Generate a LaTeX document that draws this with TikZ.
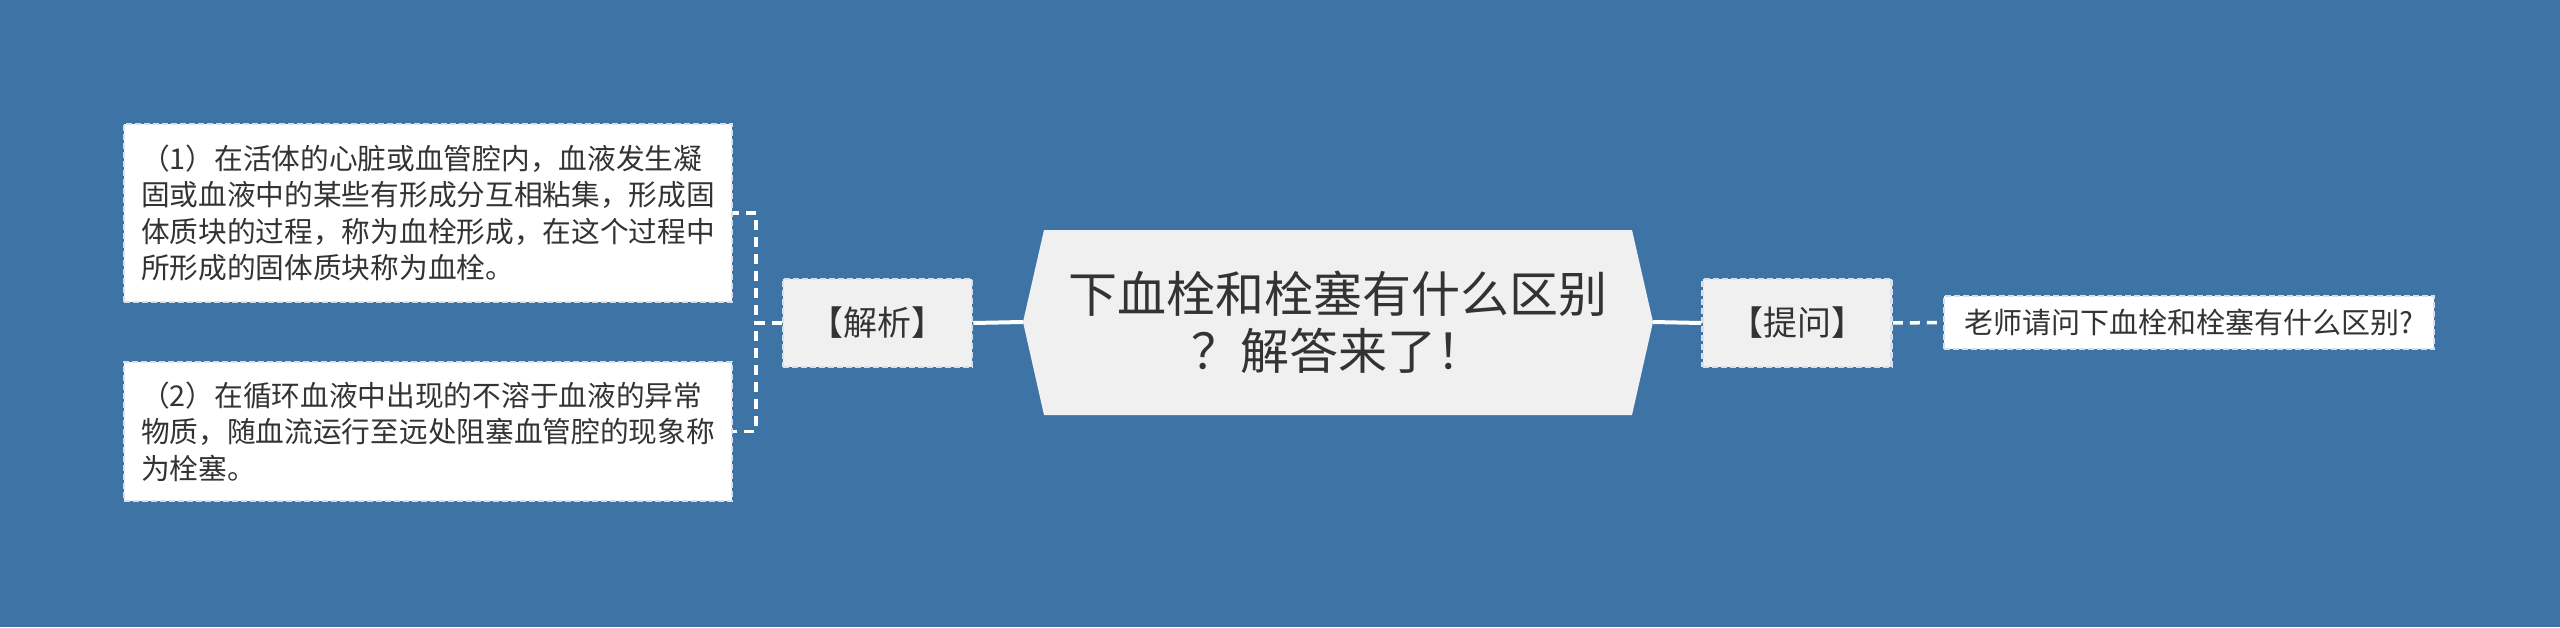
\documentclass[tikz,border=0pt]{standalone}
\usepackage{fontspec}
\setmainfont{Noto Sans CJK SC}
\usetikzlibrary{positioning}

\definecolor{bgblue}{RGB}{61,116,165}
\definecolor{boxgray}{RGB}{240,240,240}
\definecolor{inkgray}{RGB}{51,51,51}
\definecolor{edgegray}{RGB}{214,224,234}

\begin{document}
\begin{tikzpicture}[x=1pt,y=-1pt,
  rootnode/.style={minimum width=630pt, minimum height=185pt, inner sep=0pt,
    align=center, text=inkgray, font=\fontsize{49}{57}\selectfont},
  midbox/.style={draw=edgegray, fill=boxgray, dash pattern=on 6pt off 3pt,
    line width=2.5pt, minimum width=189pt, minimum height=88pt, inner sep=0pt,
    text=inkgray, font=\fontsize{34}{40}\selectfont},
  leafbox/.style={draw=edgegray, fill=white, dash pattern=on 6pt off 3pt,
    line width=2.5pt, inner xsep=17pt, inner ysep=0pt, text=inkgray,
    align=left, font=\fontsize{28.7}{36.6}\selectfont},
  solidlink/.style={draw=white, line width=4pt},
  dashlink/.style={draw=white, line width=3.5pt, dash pattern=on 10pt off 7pt}]

  % Background
  \fill[bgblue] (0,0) rectangle (2560,627);
  \useasboundingbox (0,0) rectangle (2560,627);

  % Root: hexagon with title
  \fill[boxgray] (1044,230) -- (1632,230) -- (1653,322) -- (1632,415)
    -- (1044,415) -- (1023,322) -- cycle;
  \node[rootnode] (root) at (1338,322) {下血栓和栓塞有什么区别\\？解答来了！};

  % Left branch
  \node[midbox] (jiexi) at (877.5,323) {【解析】};
  \node[leafbox, text width=574pt, minimum height=178pt] (jiexia) at (428,213)
    {（1）在活体的心脏或血管腔内，血液发生凝\\
     固或血液中的某些有形成分互相粘集，形成固\\
     体质块的过程，称为血栓形成，在这个过程中\\
     所形成的固体质块称为血栓。};
  \node[leafbox, text width=574pt, minimum height=139pt] (jiexib) at (428,431.5)
    {（2）在循环血液中出现的不溶于血液的异常\\
     物质，随血流运行至远处阻塞血管腔的现象称\\
     为栓塞。};

  % Right branch
  \node[midbox] (tiwen) at (1797,323) {【提问】};
  \node[leafbox, minimum width=490pt, minimum height=53pt,
    font=\fontsize{29}{34}\selectfont] (tiwena) at (2189,322.5)
    {老师请问下血栓和栓塞有什么区别?};

  % Connectors
  \draw[solidlink] (root.west) -- (jiexi.east);
  \draw[solidlink] (root.east) -- (tiwen.west);
  \draw[dashlink] (jiexi.west) -- ++(-26,0) |- (jiexia.east);
  \draw[dashlink] (jiexi.west) -- ++(-26,0) |- (jiexib.east);
  \draw[dashlink] (tiwen.east) -- (tiwena.west);
\end{tikzpicture}
\end{document}
